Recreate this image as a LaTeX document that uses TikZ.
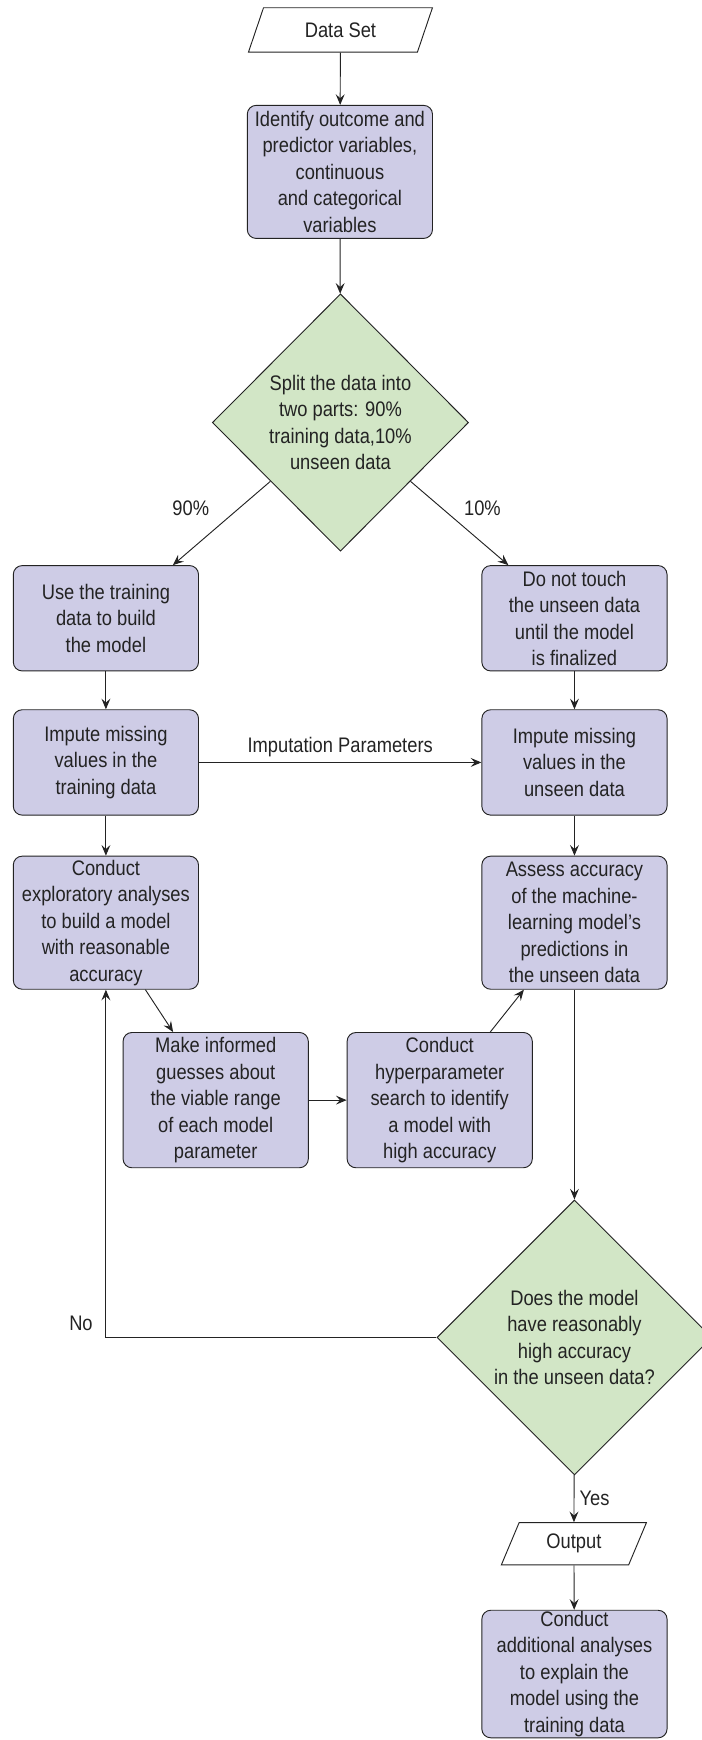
\documentclass[tikz,border=0pt]{standalone}
\usepackage{fontspec}
\setmainfont{Liberation Sans}[FakeStretch=0.87]
\usetikzlibrary{shapes.geometric,arrows.meta}
\definecolor{boxfill}{RGB}{206,204,230}
\definecolor{decfill}{RGB}{210,230,198}
\definecolor{ink}{RGB}{35,35,35}
\begin{document}
\begin{tikzpicture}[x=0.25mm, y=-0.25mm, color=ink, line width=0.6pt,
    font=\fontsize{13.5}{17}\selectfont,
    proc/.style={draw, fill=boxfill, rounded corners=2mm, align=center, minimum width=41.75mm, inner sep=0pt},
    dec/.style={draw, fill=decfill, diamond, align=center, inner sep=0pt},
    io/.style={draw, trapezium, trapezium left angle=65, trapezium right angle=115, trapezium stretches=true, inner sep=0pt},
    arr/.style={-{Stealth[length=2.4mm,width=2mm,inset=0.9mm]}}]
    \useasboundingbox (0,0) rectangle (633,1569);
    % top of the chart
    \node[io, minimum width=41.5mm, minimum height=10mm] (dataset) at (307,27) {Data Set};
    \node[proc, minimum height=30mm] (identify) at (306.5,155) {Identify outcome and\\predictor variables,\\continuous\\and categorical\\variables};
    \node[dec, minimum width=57.75mm, minimum height=58mm] (split) at (307,381) {Split the data into\\two parts: 90\%\\training data,10\%\\unseen data};
    \node (lbltrain) at (172,458) {90\%};
    \node (lblunseen) at (435,458) {10\%};
    % two columns
    \node[proc, minimum height=23.75mm] (train) at (95.5,557.5) {Use the training\\data to build\\the model};
    \node[proc, minimum height=23.75mm] (hold) at (518,557.5) {Do not touch\\the unseen data\\until the model\\is finalized};
    \node[proc, minimum height=23.75mm] (imptrain) at (95.5,687.5) {Impute missing\\values in the\\training data};
    \node[proc, minimum height=23.75mm] (impunseen) at (518,687.5) {Impute missing\\values in the\\unseen data};
    \node[proc, minimum height=30mm] (explore) at (95.5,832) {Conduct\\exploratory analyses\\to build a model\\with reasonable\\accuracy};
    \node[proc, minimum height=30mm] (assess) at (518,832) {Assess accuracy\\of the machine-\\learning model's\\predictions in\\the unseen data};
    \node[proc, minimum height=30.5mm] (guess) at (194.5,992) {Make informed\\guesses about\\the viable range\\of each model\\parameter};
    \node[proc, minimum height=30.5mm] (search) at (396.5,992) {Conduct\\hyperparameter\\search to identify\\a model with\\high accuracy};
    % decision and output
    \node[dec, minimum width=62mm, minimum height=62mm] (check) at (518,1206) {Does the model\\have reasonably\\high accuracy\\in the unseen data?};
    \node (lblno) at (73,1193) {No};
    \node[io, minimum width=32.75mm, minimum height=9.5mm] (output) at (517.5,1392) {Output};
    \node[proc, minimum height=28.75mm] (explain) at (518,1509.5) {Conduct\\additional analyses\\to explain the\\model using the\\training data};

    \draw[arr] (dataset) -- (identify);
    \draw[arr] (identify) -- (split);
    \draw[arr] (split.220) -- ([xshift=15.1mm]train.north);
    \draw[arr] (split.-40) -- ([xshift=-14.9mm]hold.north);
    \draw[arr] (train) -- (imptrain);
    \draw[arr] (hold) -- (impunseen);
    \draw[arr] (imptrain) -- node[above] {Imputation Parameters} (impunseen);
    \draw[arr] (imptrain) -- (explore);
    \draw[arr] (impunseen) -- (assess);
    \draw[arr] ([xshift=8.9mm]explore.south) -- ([xshift=-9.6mm]guess.north);
    \draw[arr] (guess) -- (search);
    \draw[arr] ([xshift=11.4mm]search.north) -- ([xshift=-11.4mm]assess.south);
    \draw[arr] (assess) -- (check);
    \draw[arr] (check.west) -| (explore.south);
    \draw[arr] (check) -- node[right] {Yes} (output);
    \draw[arr] (output) -- (explain);
\end{tikzpicture}
\end{document}
